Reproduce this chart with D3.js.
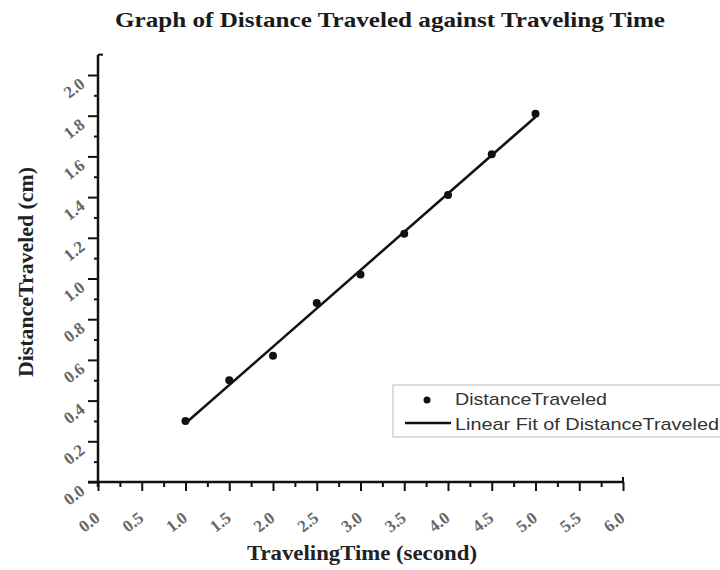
<!DOCTYPE html>
<html>
<head>
<meta charset="utf-8">
<script src="https://cdn.jsdelivr.net/npm/d3@7"></script>
<style>
    body { margin: 0; background: #fff; }
    svg { display: block; }
</style>
</head>
<body>
<div id="chart"></div>
<script>
var times = [1.0, 1.5, 2.0, 2.5, 3.0, 3.5, 4.0, 4.5, 5.0];
var distances = [0.30, 0.50, 0.62, 0.88, 1.02, 1.22, 1.41, 1.61, 1.81];
var xTicks = [0, 0.5, 1, 1.5, 2, 2.5, 3, 3.5, 4, 4.5, 5, 5.5, 6];
var yTicks = [0, 0.2, 0.4, 0.6, 0.8, 1.0, 1.2, 1.4, 1.6, 1.8, 2.0];
var legendLabels = ["DistanceTraveled", "Linear Fit of DistanceTraveled"];

const width = 720;
const height = 570;
const left = 98, right = 623, bottom = 482;
var serif = "'Liberation Serif', 'Times New Roman', serif";
var sans = "'Liberation Sans', Arial, sans-serif";

var svg = d3.select("#chart").append("svg")
    .attr("width", width)
    .attr("height", height);

var x = d3.scaleLinear().domain([0, 6]).range([left, right]);
var y = d3.scaleLinear().domain([0, 2]).range([bottom, 75]);

// least squares fit of the points
var mx = d3.mean(times), my = d3.mean(distances);
var sxy = 0, sxx = 0;
times.forEach(function(t, i) {
    sxy += (t - mx) * (distances[i] - my);
    sxx += (t - mx) * (t - mx);
});
var slope = sxy / sxx;
var intercept = my - slope * mx;

// title (the original is stretched sideways, so pin its width)
svg.append("text")
    .attr("x", 115).attr("y", 27)
    .attr("textLength", 550)
    .attr("lengthAdjust", "spacingAndGlyphs")
    .style("font-family", serif)
    .style("font-weight", "bold")
    .style("font-size", "21px")
    .attr("fill", "#1a1a1a")
    .text("Graph of Distance Traveled against Traveling Time");

// axes
var xAxis = svg.append("g")
    .attr("transform", `translate(0,${bottom})`)
    .call(d3.axisBottom(x).tickValues(d3.range(0, 6.01, 0.25)).tickSize(8).tickFormat(""));
xAxis.selectAll(".tick line")
    .attr("y2", function(d) { return Math.abs(d * 2 - Math.round(d * 2)) < 1e-6 ? 9 : 5; });

var yAxis = svg.append("g")
    .attr("transform", `translate(${left},0)`)
    .call(d3.axisLeft(y).tickValues(d3.range(0, 2.01, 0.1)).tickSize(9).tickFormat(""));
yAxis.selectAll(".tick line")
    .attr("x2", function(d) { return Math.abs(d * 5 - Math.round(d * 5)) < 1e-6 ? -10 : -4; });

// extend the y axis up to 2.1 and bring both axes together at the origin
svg.append("line")
    .attr("x1", left).attr("x2", left)
    .attr("y1", y(2.1)).attr("y2", bottom + 5)
    .attr("stroke", "#111").attr("stroke-width", 2.5);
svg.append("line")
    .attr("x1", left - 10).attr("x2", right + 1)
    .attr("y1", bottom).attr("y2", bottom)
    .attr("stroke", "#111").attr("stroke-width", 2.5);
svg.append("line")
    .attr("x1", left).attr("x2", left + 5)
    .attr("y1", y(2.1)).attr("y2", y(2.1))
    .attr("stroke", "#111").attr("stroke-width", 2);
svg.append("line")
    .attr("x1", right).attr("x2", right)
    .attr("y1", bottom).attr("y2", bottom - 5)
    .attr("stroke", "#111").attr("stroke-width", 2);

[xAxis, yAxis].forEach(function(a) {
    a.select(".domain").remove();
    a.selectAll(".tick line").attr("stroke", "#111").attr("stroke-width", 2);
});

// rotated tick labels
svg.selectAll(".xlab")
    .data(xTicks)
    .enter().append("text")
    .attr("class", "xlab")
    .attr("text-anchor", "end")
    .attr("transform", function(d) { return `translate(${x(d) + 3},${bottom + 38}) rotate(-38)`; })
    .style("font-family", serif)
    .style("font-weight", "bold")
    .style("font-size", "17px")
    .attr("fill", "#666")
    .text(function(d) { return d.toFixed(1); });

svg.selectAll(".ylab")
    .data(yTicks)
    .enter().append("text")
    .attr("class", "ylab")
    .attr("text-anchor", "end")
    .attr("transform", function(d) { return `translate(${left - 12},${y(d) + 11}) rotate(-38)`; })
    .style("font-family", serif)
    .style("font-weight", "bold")
    .style("font-size", "17px")
    .attr("fill", "#666")
    .text(function(d) { return d.toFixed(1); });

// axis titles
svg.append("text")
    .attr("x", 247).attr("y", 560)
    .attr("textLength", 230)
    .attr("lengthAdjust", "spacingAndGlyphs")
    .style("font-family", serif)
    .style("font-weight", "bold")
    .style("font-size", "20px")
    .attr("fill", "#222")
    .text("TravelingTime (second)");

svg.append("text")
    .attr("transform", "translate(33,377) rotate(-90)")
    .attr("textLength", 210)
    .attr("lengthAdjust", "spacingAndGlyphs")
    .style("font-family", serif)
    .style("font-weight", "bold")
    .style("font-size", "20px")
    .attr("fill", "#222")
    .text("DistanceTraveled (cm)");

// fit line
svg.append("line")
    .attr("x1", x(1)).attr("y1", y(intercept + slope * 1))
    .attr("x2", x(5)).attr("y2", y(intercept + slope * 5))
    .attr("stroke", "#111")
    .attr("stroke-width", 2.5);

// points
svg.selectAll(".dot")
    .data(times)
    .enter().append("circle")
    .attr("class", "dot")
    .attr("cx", function(d) { return x(d); })
    .attr("cy", function(d, i) { return y(distances[i]); })
    .attr("r", 4)
    .attr("fill", "#111");

// legend
var legend = svg.append("g").attr("transform", "translate(393,385)");
legend.append("rect")
    .attr("width", 340).attr("height", 52)
    .attr("fill", "#fff")
    .attr("stroke", "#bbb");
legend.append("circle")
    .attr("cx", 34).attr("cy", 15).attr("r", 3.5).attr("fill", "#111");
legend.append("line")
    .attr("x1", 12).attr("x2", 58).attr("y1", 38).attr("y2", 38)
    .attr("stroke", "#111").attr("stroke-width", 2.5);
legend.selectAll(".legtext")
    .data(legendLabels)
    .enter().append("text")
    .attr("class", "legtext")
    .attr("x", 62)
    .attr("y", function(d, i) { return 20 + i * 25; })
    .attr("textLength", function(d, i) { return [152, 264][i]; })
    .attr("lengthAdjust", "spacingAndGlyphs")
    .style("font-family", sans)
    .style("font-size", "17px")
    .attr("fill", "#333")
    .text(function(d) { return d; });
</script>
</body>
</html>
